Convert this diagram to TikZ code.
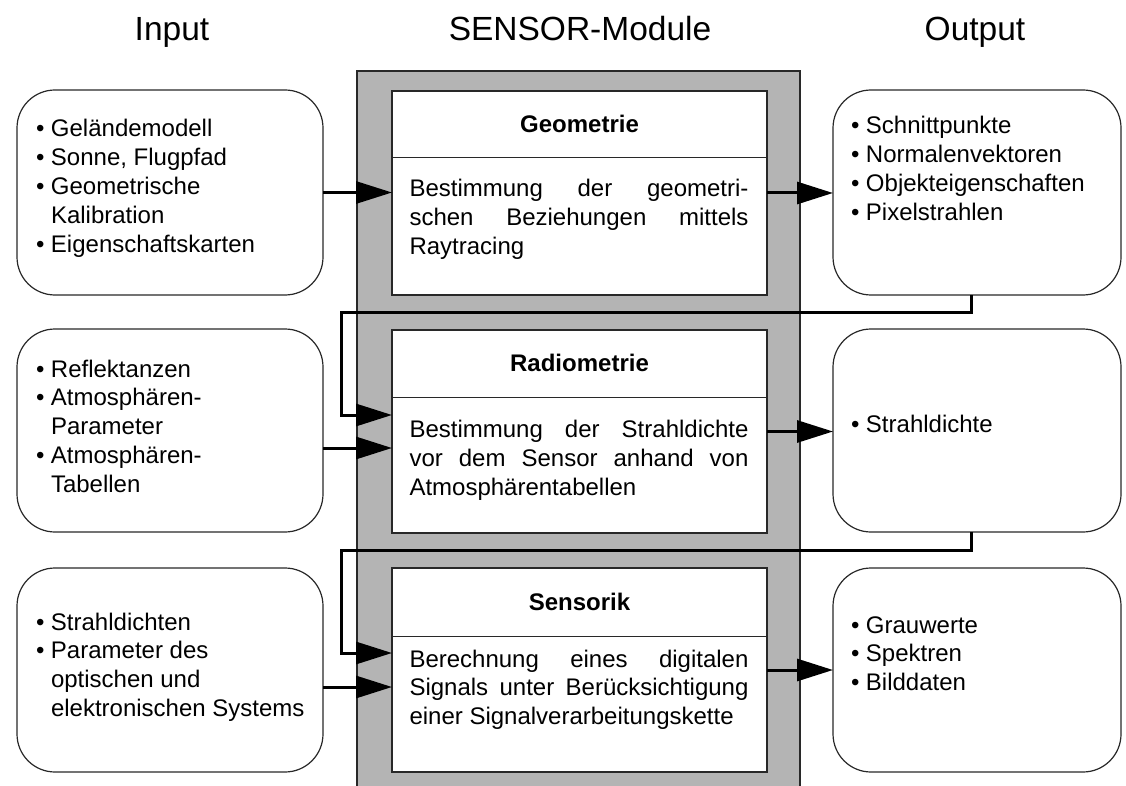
\documentclass[tikz,border=0pt]{standalone}
\usepackage{fontspec}
\setmainfont{Liberation Sans}
\usetikzlibrary{arrows.meta}
\definecolor{panelgray}{RGB}{180,180,180}
\definecolor{edgecol}{RGB}{40,40,40}
\newcommand{\itm}[1]{\makebox[15pt][l]{•}#1}
\newcommand{\cnt}[1]{\hspace*{15pt}#1}
\newcommand{\bodyfont}{\fontsize{24}{28.9}\selectfont}
\newcommand{\headfont}{\fontsize{24}{28.9}\selectfont\bfseries}
\newcommand{\titlefont}{\fontsize{33.5}{40}\selectfont}
\begin{document}
\begin{tikzpicture}[x=1pt,y=-1pt,
  every node/.style={inner sep=0pt, outer sep=0pt},
  iobox/.style={draw=edgecol, line width=1.2pt, rounded corners=38pt, fill=white},
  modbox/.style={draw=edgecol, line width=1.2pt, fill=white},
  panelbox/.style={draw=edgecol, line width=1.2pt, fill=panelgray},
  divline/.style={draw=edgecol, line width=1pt},
  arr/.style={line width=3pt, -{Triangle[length=36pt,width=22pt]}},
  txt/.style={anchor=base west, font=\bodyfont},
  head/.style={anchor=base, font=\headfont},
  ttl/.style={anchor=base, font=\titlefont}]
\useasboundingbox (0,0) rectangle (1126,786);

% titles
\node[ttl] (tin) at (172,41) {Input};
\node[ttl] (tmod) at (580,41) {SENSOR-Module};
\node[ttl] (tout) at (975,41) {Output};

% gray panel
\node[panelbox, minimum width=443pt, minimum height=729pt] (panel) at (578.5,435.5) {};

% input boxes
\node[iobox, minimum width=306pt, minimum height=205pt] (in1) at (170,192.5) {};
\node[iobox, minimum width=306pt, minimum height=203pt] (in2) at (170,430.5) {};
\node[iobox, minimum width=306pt, minimum height=204pt] (in3) at (170,670) {};

% output boxes
\node[iobox, minimum width=288pt, minimum height=205pt] (out1) at (977,192.5) {};
\node[iobox, minimum width=288pt, minimum height=203pt] (out2) at (977,430.5) {};
\node[iobox, minimum width=288pt, minimum height=204pt] (out3) at (977,670) {};

% module boxes
\node[modbox, minimum width=375pt, minimum height=204pt] (geo) at (579.5,193) {};
\node[modbox, minimum width=375pt, minimum height=203pt] (rad) at (579.5,431.5) {};
\node[modbox, minimum width=375pt, minimum height=204pt] (sen) at (579.5,670) {};
\coordinate (d1) at (0,158);
\coordinate (d2) at (0,397);
\coordinate (d3) at (0,636);
\draw[divline] (geo.west |- d1) -- (geo.east |- d1);
\draw[divline] (rad.west |- d2) -- (rad.east |- d2);
\draw[divline] (sen.west |- d3) -- (sen.east |- d3);

% module headings
\node[head] (hgeo) at (579.5,133) {Geometrie};
\node[head] (hrad) at (579.5,371.5) {Radiometrie};
\node[head] (hsen) at (579.5,610.5) {Sensorik};

% module texts
\node[txt] (bgeo) at (409.5,197) {\parbox[t]{339pt}{\tolerance=10000\hyphenpenalty=10000 Bestimmung der geometri-\linebreak schen Beziehungen mittels\linebreak Raytracing}};
\node[txt] (brad) at (409.5,437.5) {\parbox[t]{339pt}{\tolerance=10000\hyphenpenalty=10000 Bestimmung der Strahldichte\linebreak vor dem Sensor anhand von\linebreak Atmosphärentabellen}};
\node[txt] (bsen) at (409.5,667) {\parbox[t]{339pt}{\tolerance=10000\hyphenpenalty=10000 Berechnung eines digitalen\linebreak Signals unter Berücksichtigung\linebreak einer Signalverarbeitungskette}};

% input texts
\node[txt] (tin1) at (36,137) {\parbox[t]{280pt}{\raggedright\itm{Geländemodell}\\\itm{Sonne, Flugpfad}\\\itm{Geometrische}\\\cnt{Kalibration}\\\itm{Eigenschaftskarten}}};
\node[txt] (tin2) at (36,377) {\parbox[t]{280pt}{\raggedright\itm{Reflektanzen}\\\itm{Atmosphären-}\\\cnt{Parameter}\\\itm{Atmosphären-}\\\cnt{Tabellen}}};
\node[txt] (tin3) at (36,630) {\parbox[t]{280pt}{\raggedright\itm{Strahldichten}\\\itm{Parameter des}\\\cnt{optischen und}\\\cnt{elektronischen Systems}}};

% output texts
\node[txt] (tout1) at (851,134) {\parbox[t]{260pt}{\raggedright\itm{Schnittpunkte}\\\itm{Normalenvektoren}\\\itm{Objekteigenschaften}\\\itm{Pixelstrahlen}}};
\node[txt] (tout2) at (851,432) {\parbox[t]{260pt}{\raggedright\itm{Strahldichte}}};
\node[txt] (tout3) at (851,633) {\parbox[t]{260pt}{\raggedright\itm{Grauwerte}\\\itm{Spektren}\\\itm{Bilddaten}}};

% connectors
\draw[arr] (in1.east) -- (in1.east -| geo.west);
\draw[arr] (geo.east) -- (geo.east -| out1.west);

\coordinate (fb1) at (971,312);
\coordinate (k1) at (341,415);
\draw[arr] (out1.south -| fb1) -- (fb1) -| (k1) -- (k1 -| rad.west);
\coordinate (r2) at (0,448);
\draw[arr] (in2.east |- r2) -- (rad.west |- r2);
\draw[arr] (rad.east) -- (rad.east -| out2.west);

\coordinate (fb2) at (971,550);
\coordinate (k2) at (341,653);
\draw[arr] (out2.south -| fb2) -- (fb2) -| (k2) -- (k2 -| sen.west);
\coordinate (s2) at (0,687);
\draw[arr] (in3.east |- s2) -- (sen.west |- s2);
\draw[arr] (sen.east) -- (sen.east -| out3.west);
\end{tikzpicture}
\end{document}
